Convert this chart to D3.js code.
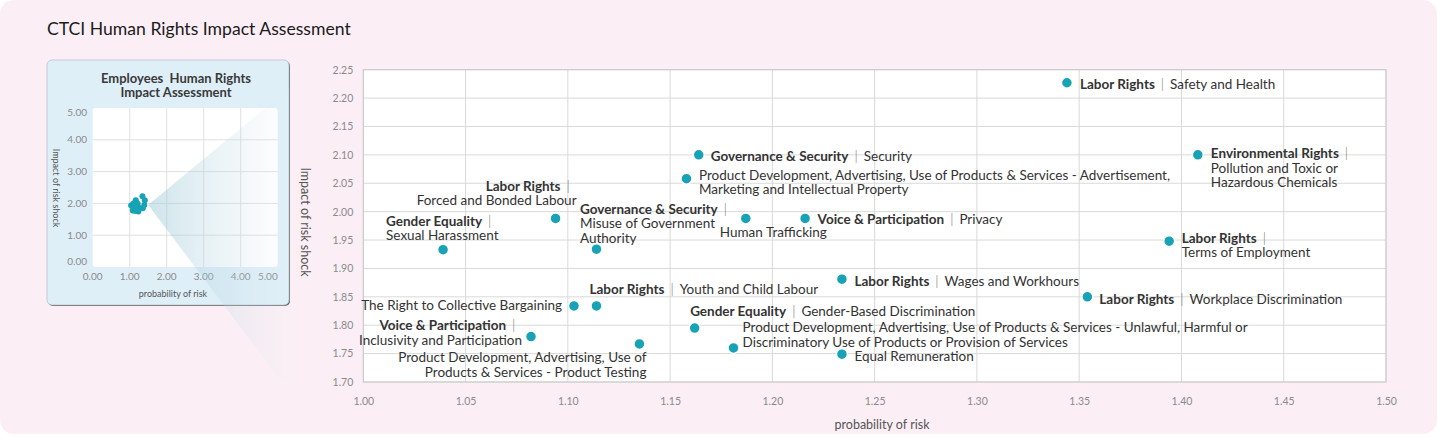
<!DOCTYPE html>
<html>
<head>
<meta charset="utf-8">
<script src="https://cdn.jsdelivr.net/npm/d3@7"></script>
<style>
  html, body { margin: 0; padding: 0; background: #ffffff; }
  svg { display: block; font-family: Lato, "Open Sans", sans-serif; }
</style>
</head>
<body>
<svg id="chart" width="1441" height="438"></svg>
<script>
// Risk items: probability (x) and impact (y)
const probability = [1.344, 1.408, 1.164, 1.158, 1.094, 1.187, 1.216, 1.039, 1.114, 1.394,
                     1.234, 1.354, 1.103, 1.114, 1.162, 1.082, 1.135, 1.181, 1.234];
const impact = [2.227, 2.100, 2.100, 2.058, 1.988, 1.988, 1.988, 1.933, 1.934, 1.948,
                1.881, 1.850, 1.834, 1.834, 1.795, 1.780, 1.767, 1.760, 1.749];
const categories = ["Labor Rights", "Environmental Rights", "Governance & Security", "",
                    "Labor Rights", "", "Voice & Participation", "Gender Equality",
                    "Governance & Security", "Labor Rights", "Labor Rights", "Labor Rights",
                    "", "Labor Rights", "Gender Equality", "Voice & Participation", "", "", ""];
const details = [
  ["Safety and Health"],
  ["Pollution and Toxic or", "Hazardous Chemicals"],
  ["Security"],
  ["Product Development, Advertising, Use of Products & Services - Advertisement,", "Marketing and Intellectual Property"],
  ["Forced and Bonded Labour"],
  ["Human Trafficking"],
  ["Privacy"],
  ["Sexual Harassment"],
  ["Misuse of Government", "Authority"],
  ["Terms of Employment"],
  ["Wages and Workhours"],
  ["Workplace Discrimination"],
  ["The Right to Collective Bargaining"],
  ["Youth and Child Labour"],
  ["Gender-Based Discrimination"],
  ["Inclusivity and Participation"],
  ["Product Development, Advertising, Use of", "Products & Services - Product Testing"],
  ["Product Development, Advertising, Use of Products & Services - Unlawful, Harmful or", "Discriminatory Use of Products or Provision of Services"],
  ["Equal Remuneration"]
];

const xTicks = [1.00, 1.05, 1.10, 1.15, 1.20, 1.25, 1.30, 1.35, 1.40, 1.45, 1.50];
const yTicks = [1.70, 1.75, 1.80, 1.85, 1.90, 1.95, 2.00, 2.05, 2.10, 2.15, 2.20, 2.25];
const insetTicks = [0, 1, 2, 3, 4, 5];

// label placement per item: offset from the dot, anchor, category on its own line or inline
const labelLayout = [
  {dx: 13, dy: 6.5, anchor: "start", inline: true},
  {dx: 13, dy: 3.5, anchor: "start", inline: false},
  {dx: 12, dy: 6, anchor: "start", inline: true},
  {dx: 12.5, dy: 1, anchor: "start", inline: true},
  {dx: 21, dy: -27.5, anchor: "end", inline: false},
  {dx: -26, dy: 18.5, anchor: "start", inline: true},
  {dx: 12.5, dy: 6, anchor: "start", inline: true},
  {dx: -57, dy: -24, anchor: "start", inline: false},
  {dx: -16.5, dy: -35.5, anchor: "start", inline: false},
  {dx: 12.5, dy: 1.5, anchor: "start", inline: false},
  {dx: 12.5, dy: 6.5, anchor: "start", inline: true},
  {dx: 12, dy: 7, anchor: "start", inline: true},
  {dx: -12, dy: 4, anchor: "end", inline: true},
  {dx: -7, dy: -12, anchor: "start", inline: true},
  {dx: -4.5, dy: -12, anchor: "start", inline: true},
  {dx: -9, dy: -6.5, anchor: "end", inline: false},
  {dx: 7, dy: 18.5, anchor: "end", inline: true},
  {dx: 9, dy: -15.5, anchor: "start", inline: true},
  {dx: 12.5, dy: 6.5, anchor: "start", inline: true}
];

const dotColor = "#17a3b5";
const items = probability.map((p, i) => ({p, v: impact[i], cat: categories[i], lines: details[i], layout: labelLayout[i]}));

const svg = d3.select("#chart");

// page card
svg.append("rect")
  .attr("x", 0).attr("y", 0)
  .attr("width", 1437).attr("height", 434)
  .attr("rx", 14)
  .attr("fill", "#fbeff5");

svg.append("text")
  .attr("x", 47).attr("y", 35)
  .style("font-size", "17.6px")
  .style("fill", "#1b1b1b")
  .text("CTCI Human Rights Impact Assessment");

// ---------- main scatter ----------
const plot = {left: 363.3, right: 1386, top: 69.7, bottom: 382};
const x = d3.scaleLinear().domain([1.0, 1.5]).range([plot.left, plot.right]);
const y = d3.scaleLinear().domain([1.7, 2.25]).range([plot.bottom, plot.top]);

svg.append("rect")
  .attr("x", plot.left).attr("y", plot.top)
  .attr("width", plot.right - plot.left).attr("height", plot.bottom - plot.top)
  .attr("fill", "#ffffff");

const grid = svg.append("g").attr("class", "grid");
grid.selectAll(".vx").data(xTicks).enter().append("line")
  .attr("x1", d => x(d)).attr("x2", d => x(d))
  .attr("y1", plot.top).attr("y2", plot.bottom)
  .attr("stroke", "#d9d9d9").attr("stroke-width", 1);
grid.selectAll(".hy").data(yTicks).enter().append("line")
  .attr("x1", plot.left).attr("x2", plot.right)
  .attr("y1", d => y(d)).attr("y2", d => y(d))
  .attr("stroke", "#d9d9d9").attr("stroke-width", 1);

svg.append("rect")
  .attr("x", plot.left).attr("y", plot.top)
  .attr("width", plot.right - plot.left).attr("height", plot.bottom - plot.top)
  .attr("fill", "none").attr("stroke", "#c9c9c9");

// axes (labels only, lines come from the grid)
const xAxis = svg.append("g")
  .attr("transform", `translate(0,${plot.bottom})`)
  .call(d3.axisBottom(x).tickValues(xTicks).tickFormat(d3.format(".2f")).tickSize(0).tickPadding(16));
const yAxis = svg.append("g")
  .attr("transform", `translate(${plot.left},0)`)
  .call(d3.axisLeft(y).tickValues(yTicks).tickFormat(d3.format(".2f")).tickSize(0).tickPadding(10));
[xAxis, yAxis].forEach(a => {
  a.select(".domain").remove();
  a.selectAll("text")
    .style("font-family", "Lato, sans-serif")
    .style("font-size", "10.5px")
    .style("fill", "#8a8a8a");
});

svg.append("text")
  .attr("transform", `translate(301,222) rotate(90)`)
  .attr("text-anchor", "middle")
  .style("font-size", "12.5px")
  .style("fill", "#555")
  .text("Impact of risk shock");

svg.append("text")
  .attr("x", 882).attr("y", 429)
  .attr("text-anchor", "middle")
  .style("font-size", "12.5px")
  .style("fill", "#555")
  .text("probability of risk");

// dots
svg.append("g").selectAll("circle")
  .data(items).enter().append("circle")
  .attr("cx", d => x(d.p))
  .attr("cy", d => y(d.v))
  .attr("r", 5.5)
  .attr("fill", dotColor)
  .attr("stroke", "#ffffff")
  .attr("stroke-width", 1.5);

// labels
const lineGap = 14.5;
const labels = svg.append("g").attr("class", "labels")
  .style("font-size", "13.5px")
  .style("fill", "#333");

items.forEach(d => {
  const L = d.layout;
  const tx = x(d.p) + L.dx;
  const ty = y(d.v) + L.dy;
  const t = labels.append("text")
    .attr("x", tx).attr("y", ty)
    .attr("text-anchor", L.anchor);

  let row = 0;
  const addCat = (tspan) => {
    tspan.append("tspan").style("font-weight", "700").text(d.cat);
    tspan.append("tspan").attr("dx", 6).style("fill", "#666").style("font-weight", "300").text("|");
  };

  if (d.cat && !L.inline) {
    const line = t.append("tspan").attr("x", tx).attr("y", ty);
    addCat(line);
    line.append("tspan").text("\u2002");
    row = 1;
  }
  d.lines.forEach((txt, j) => {
    const line = t.append("tspan").attr("x", tx).attr("y", ty + (row + j) * lineGap);
    if (d.cat && L.inline && j === 0) {
      addCat(line);
      line.append("tspan").attr("dx", 6).text(txt);
    } else {
      line.text(txt);
    }
  });
});

// ---------- inset overview ----------
const panel = {x: 47, y: 60, w: 242, h: 245};
const ip = {left: 92.7, right: 277.7, top: 108, bottom: 267};
const ix = d3.scaleLinear().domain([0, 5]).range([ip.left, ip.right]);
const iy = d3.scaleLinear().domain([0, 5]).range([ip.bottom, ip.top]);

svg.append("rect")
  .attr("x", panel.x + 1).attr("y", panel.y + 1)
  .attr("width", panel.w).attr("height", panel.h)
  .attr("rx", 5).attr("fill", "#555");
svg.append("rect")
  .attr("x", panel.x).attr("y", panel.y)
  .attr("width", panel.w).attr("height", panel.h)
  .attr("rx", 5).attr("fill", "#dfeff8")
  .attr("stroke", "#b9c3c9").attr("stroke-width", 0.8);

svg.append("text")
  .attr("x", 176).attr("y", 82.5)
  .attr("text-anchor", "middle")
  .style("font-size", "13px").style("font-weight", "700").style("fill", "#3a3a3a")
  .selectAll("tspan")
  .data(["Employees  Human Rights", "Impact Assessment"])
  .enter().append("tspan")
  .attr("x", 176)
  .attr("dy", (d, i) => i === 0 ? 0 : 14.5)
  .style("white-space", "pre")
  .attr("xml:space", "preserve")
  .text(d => d);

svg.append("rect")
  .attr("x", ip.left).attr("y", ip.top)
  .attr("width", ip.right - ip.left).attr("height", ip.bottom - ip.top)
  .attr("rx", 3).attr("fill", "#ffffff");

const ig = svg.append("g");
ig.selectAll(".v").data(insetTicks.slice(1, -1)).enter().append("line")
  .attr("x1", d => ix(d)).attr("x2", d => ix(d))
  .attr("y1", ip.top).attr("y2", ip.bottom)
  .attr("stroke", "#e0e0e0");
ig.selectAll(".h").data(insetTicks.slice(1, -1)).enter().append("line")
  .attr("x1", ip.left).attr("x2", ip.right)
  .attr("y1", d => iy(d)).attr("y2", d => iy(d))
  .attr("stroke", "#e0e0e0");

const iTickStyle = s => s.style("font-size", "10px").style("fill", "#8a8a8a");
svg.append("g").selectAll("text").data(insetTicks).enter().append("text")
  .attr("x", d => d === 5 ? ip.right : ix(d))
  .attr("y", 280)
  .attr("text-anchor", d => d === 5 ? "end" : "middle")
  .text(d => d3.format(".2f")(d))
  .call(iTickStyle);
svg.append("g").selectAll("text").data(insetTicks).enter().append("text")
  .attr("x", 87)
  .attr("y", d => d === 5 ? ip.top + 8 : d === 0 ? ip.bottom - 2 : iy(d) + 3.5)
  .attr("text-anchor", "end")
  .text(d => d3.format(".2f")(d))
  .call(iTickStyle);

svg.append("text")
  .attr("transform", "translate(53,188) rotate(90)")
  .attr("text-anchor", "middle")
  .style("font-size", "9px").style("fill", "#555")
  .text("Impact of risk shock");
svg.append("text")
  .attr("x", 173).attr("y", 297)
  .attr("text-anchor", "middle")
  .style("font-size", "9px").style("fill", "#555")
  .text("probability of risk");

svg.append("g").selectAll("circle")
  .data(items).enter().append("circle")
  .attr("cx", d => ix(d.p))
  .attr("cy", d => iy(d.v))
  .attr("r", 3)
  .attr("fill", dotColor);

// zoom wedge from the cluster towards the main chart
const defs = svg.append("defs");
const grad = defs.append("linearGradient")
  .attr("id", "wedge")
  .attr("gradientUnits", "userSpaceOnUse")
  .attr("x1", ix(1.5)).attr("y1", 0)
  .attr("x2", 296).attr("y2", 0);
grad.append("stop").attr("offset", "0%").attr("stop-color", "#8fc3d3").attr("stop-opacity", 0.45);
grad.append("stop").attr("offset", "55%").attr("stop-color", "#bcd9e4").attr("stop-opacity", 0.25);
grad.append("stop").attr("offset", "100%").attr("stop-color", "#e8f0f3").attr("stop-opacity", 0.05);

const apex = [ix(1.5), iy(1.95)];
svg.append("path")
  .attr("d", d3.line()([apex, [296, apex[1] - 0.827 * (296 - apex[0])], [296, apex[1] + 1.324 * (296 - apex[0])]]) + "Z")
  .attr("fill", "url(#wedge)");
</script>
</body>
</html>
